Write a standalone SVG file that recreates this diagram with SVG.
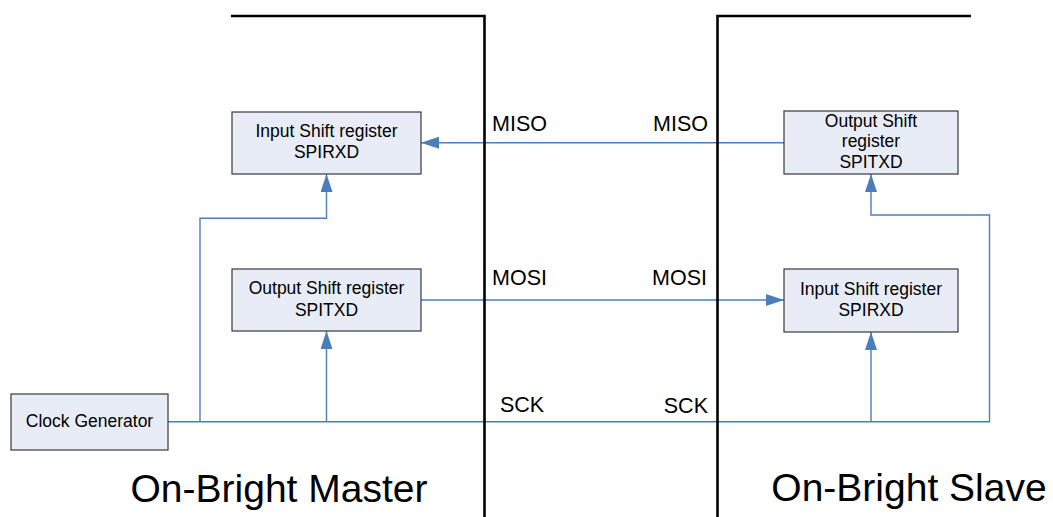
<svg xmlns="http://www.w3.org/2000/svg" width="1053" height="517" viewBox="0 0 1053 517">
<style>
.box{fill:#e7ecf6;stroke:#3a3a3a;stroke-width:1.2}
.bt{font-family:"Liberation Sans",Arial,sans-serif;font-size:17.5px;fill:#000;text-anchor:middle}
.sig{font-family:"Liberation Sans",Arial,sans-serif;font-size:21.5px;fill:#000}
.title{font-family:"Liberation Sans",Arial,sans-serif;font-size:39px;fill:#000;text-anchor:middle}
.wire{fill:none;stroke:#4a7ebb;stroke-width:1.4}
.wall{fill:none;stroke:#000;stroke-width:2.6}
</style>
<defs>
<marker id="arr" markerUnits="userSpaceOnUse" markerWidth="18" markerHeight="12" refX="18" refY="6" orient="auto">
<path d="M0,0 L18,6 L0,12 z" fill="#4a7ebb"/>
</marker>
</defs>
<rect width="1053" height="517" fill="#fff"/>
<g id="connectors">
<path class="wire" d="M784,142.7 H421" marker-end="url(#arr)"/>
<path class="wire" d="M421,300 H784" marker-end="url(#arr)"/>
<path class="wire" d="M168,421.7 H989.5 V215 H871 V174" marker-end="url(#arr)"/>
<path class="wire" d="M200,421.7 V218.3 H326.5 V174" marker-end="url(#arr)"/>
<path class="wire" d="M326.5,421.7 V331" marker-end="url(#arr)"/>
<path class="wire" d="M871,421.7 V332" marker-end="url(#arr)"/>
</g>
<g id="walls">
<path class="wall" d="M231,16 H484.5 V517"/>
<path class="wall" d="M717.5,517 V16 H971"/>
</g>
<g id="master-input">
<rect class="box" x="232" y="112" width="189" height="62"/>
<text class="bt" x="326.5" y="136.7">Input Shift register</text>
<text class="bt" x="326.5" y="158">SPIRXD</text>
</g>
<g id="master-output">
<rect class="box" x="232" y="269" width="189" height="62"/>
<text class="bt" x="326.5" y="294">Output Shift register</text>
<text class="bt" x="326.5" y="315.7">SPITXD</text>
</g>
<g id="slave-output">
<rect class="box" x="784" y="111" width="174" height="63"/>
<text class="bt" x="871" y="126.7">Output Shift</text>
<text class="bt" x="871" y="147">register</text>
<text class="bt" x="871" y="167.7">SPITXD</text>
</g>
<g id="slave-input">
<rect class="box" x="784" y="269" width="174" height="63"/>
<text class="bt" x="871" y="295">Input Shift register</text>
<text class="bt" x="871" y="316">SPIRXD</text>
</g>
<g id="clock-generator">
<rect class="box" x="11" y="394" width="157" height="56"/>
<text class="bt" x="89.5" y="426.7">Clock Generator</text>
</g>
<g id="labels">
<text class="sig" x="492" y="131">MISO</text>
<text class="sig" x="708" y="131" text-anchor="end">MISO</text>
<text class="sig" x="492" y="285">MOSI</text>
<text class="sig" x="707" y="285" text-anchor="end">MOSI</text>
<text class="sig" x="500" y="412">SCK</text>
<text class="sig" x="708" y="413.3" text-anchor="end">SCK</text>
<text class="title" x="279" y="502">On-Bright Master</text>
<text class="title" x="909" y="501">On-Bright Slave</text>
</g>
</svg>
